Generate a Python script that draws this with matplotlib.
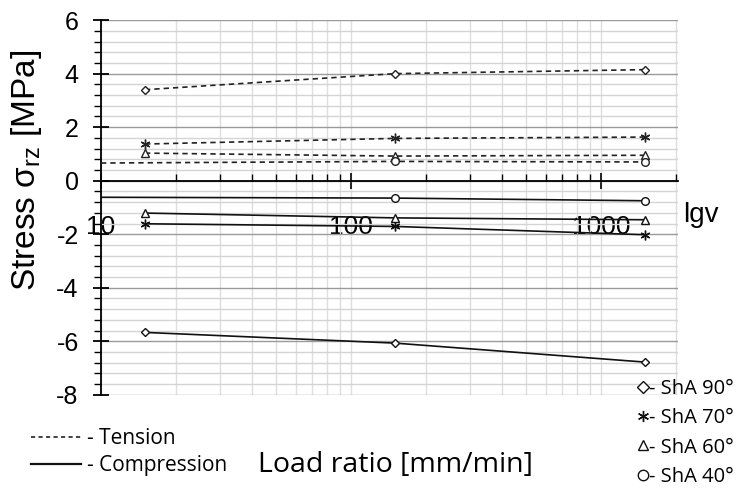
import matplotlib.pyplot as plt
from matplotlib.lines import Line2D
from matplotlib.ticker import MultipleLocator, LogLocator, NullFormatter

plt.rcParams['font.family'] = ['Liberation Sans', 'DejaVu Sans']
plt.rcParams['mathtext.fontset'] = 'custom'
plt.rcParams['mathtext.rm'] = 'Liberation Sans'
plt.rcParams['mathtext.it'] = 'Liberation Sans'
plt.rcParams['axes.unicode_minus'] = False

# load rate [mm/min]
load_rate = [15, 150, 1500]
load_rate_40 = [10, 150, 1500]   # ShA 40 lines start at the axis edge

series_names = ['ShA 90°', 'ShA 70°', 'ShA 60°', 'ShA 40°']

tension_90 = [3.40, 4.00, 4.15]
tension_70 = [1.37, 1.58, 1.63]
tension_60 = [1.03, 0.92, 0.95]
tension_40 = [0.66, 0.72, 0.70]

compression_90 = [-5.67, -6.07, -6.78]
compression_70 = [-1.61, -1.71, -2.02]
compression_60 = [-1.21, -1.39, -1.46]
compression_40 = [-0.62, -0.65, -0.75]

markers = ['D', (6, 2, 0), '^', 'o']
msizes = [4.5, 7, 5.5, 5.5]
legend_msizes = [6, 8, 7, 7.5]

fig = plt.figure(figsize=(7.37, 4.91), dpi=100)
ax = fig.add_axes([0.137, 0.196, 0.783, 0.763])

dash = (0, (3.2, 2.4))
tension = [tension_90, tension_70, tension_60, tension_40]
compression = [compression_90, compression_70, compression_60, compression_40]
for i in range(4):
    xs = load_rate_40 if i == 3 else load_rate
    mev = [1, 2] if i == 3 else None
    ax.plot(xs, tension[i], color='#222222', lw=1.2, linestyle=dash,
            marker=markers[i], ms=msizes[i], mfc='white', mec='#222222',
            mew=1.0, markevery=mev, zorder=3)
    ax.plot(xs, compression[i], color='#111111', lw=1.2, linestyle='-',
            marker=markers[i], ms=msizes[i], mfc='white', mec='#111111',
            mew=1.0, markevery=mev, zorder=3)

ax.set_xscale('log')
ax.set_xlim(10, 2030)
ax.set_ylim(-8, 6)

ax.set_xticks([10, 100, 1000])
ax.set_xticklabels(['10', '100', '1000'])
ax.xaxis.set_minor_locator(LogLocator(base=10, subs=range(2, 10)))
ax.xaxis.set_minor_formatter(NullFormatter())
ax.yaxis.set_major_locator(MultipleLocator(2))
ax.yaxis.set_minor_locator(MultipleLocator(0.4))

ax.grid(True, which='major', axis='y', color='#9a9a9a', lw=1.0)
ax.grid(True, which='minor', axis='y', color='#d4d4d4', lw=1.0)
ax.grid(True, which='both', axis='x', color='#dedede', lw=1.0)
ax.set_axisbelow(True)

for s in ['top', 'right']:
    ax.spines[s].set_visible(False)
ax.spines['bottom'].set_position(('data', 0))
ax.spines['left'].set_linewidth(1.3)
ax.spines['bottom'].set_linewidth(1.3)

ax.tick_params(axis='y', which='major', direction='inout', length=12,
               width=1.3, labelsize=18, pad=10)
ax.tick_params(axis='y', which='minor', direction='out', length=5, width=1.0)
ax.tick_params(axis='x', which='major', direction='inout', length=12,
               width=1.2, labelsize=19, pad=19)
ax.tick_params(axis='x', which='minor', direction='in', length=5, width=1.0)

ax.set_ylabel('Stress σ$_\\mathrm{rz}$ [MPa]', fontsize=24)
ax.yaxis.set_label_coords(-0.098, 0.6)

fig.text(701 / 737, 1 - 215 / 491, 'lgv', fontsize=20, ha='center', va='center')
fig.text(395 / 737, 1 - 465 / 491, 'Load ratio [mm/min]', fontsize=20.5,
         family='Open Sans', ha='center', va='center')

style_handles = [Line2D([], [], color='#222222', lw=1.2, linestyle=(0, (2.5, 2))),
                 Line2D([], [], color='#111111', lw=1.6, linestyle='-')]
fig.legend(style_handles, ['- Tension', '- Compression'], loc='center left',
           bbox_to_anchor=(0.028, 1 - 452 / 491), frameon=False,
           prop={'family': 'Open Sans', 'size': 15}, handlelength=2.4,
           handletextpad=0.3, labelspacing=0.3, borderpad=0)

marker_handles = [Line2D([], [], linestyle='none', marker=m, ms=ms, mfc='white',
                         mec='#111111', mew=1.0) for m, ms in zip(markers, legend_msizes)]
fig.legend(marker_handles, ['- ' + n for n in series_names], loc='center left',
           bbox_to_anchor=(0.852, 1 - 433 / 491), frameon=False,
           prop={'family': 'Open Sans', 'size': 14.5}, handlelength=0.5,
           handletextpad=0.05, labelspacing=0.45, borderpad=0)

fig.savefig('out.png', dpi=100)
